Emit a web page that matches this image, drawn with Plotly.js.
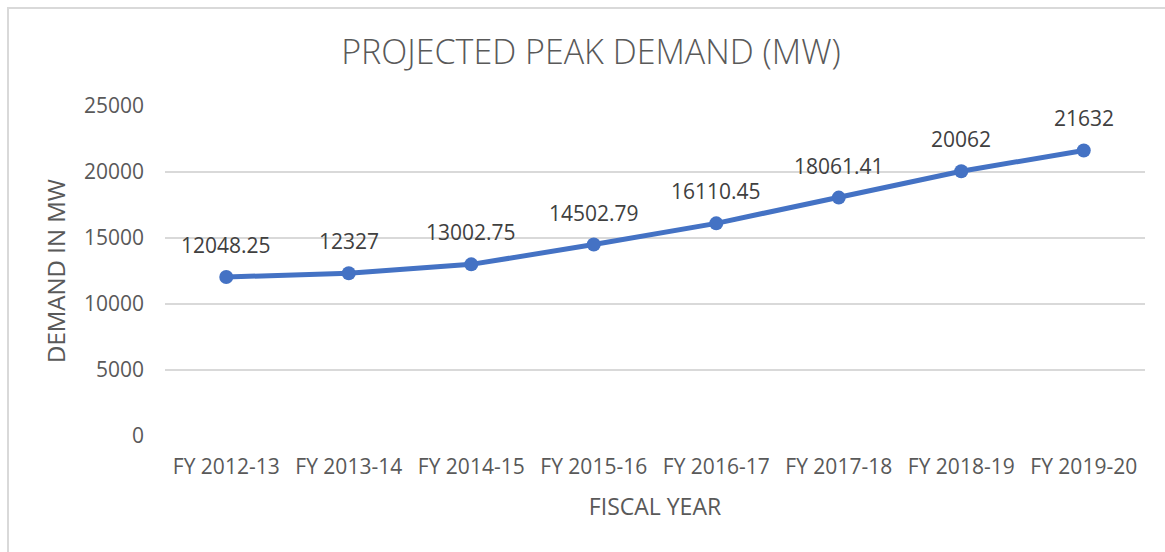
<!DOCTYPE html>
<html>
<head>
<meta charset="utf-8">
<script src="https://cdn.plot.ly/plotly-3.0.1.min.js"></script>
<style>
  html, body { margin: 0; padding: 0; background: #ffffff; }
  #wrap { position: relative; width: 1165px; height: 552px; overflow: hidden; }
  #frame { position: absolute; left: 7px; top: 7px; width: 1200px; height: 600px;
           border-left: 2px solid #d9d9d9; border-top: 2px solid #d9d9d9; box-sizing: border-box; }
  #chart { position: absolute; left: 0; top: 0; width: 1165px; height: 552px; }
</style>
</head>
<body>
<div id="wrap">
  <div id="frame"></div>
  <div id="chart"></div>
</div>
<script>
const categories = ["FY 2012-13", "FY 2013-14", "FY 2014-15", "FY 2015-16",
                    "FY 2016-17", "FY 2017-18", "FY 2018-19", "FY 2019-20"];
const demand = [12048.25, 12327, 13002.75, 14502.79, 16110.45, 18061.41, 20062, 21632];
const labels = ["12048.25", "12327", "13002.75", "14502.79", "16110.45", "18061.41", "20062", "21632"];
const yTicks = [0, 5000, 10000, 15000, 20000, 25000];

const FONT = "'Open Sans', 'Noto Sans', sans-serif";
const TXT = "#595959";

const trace = {
  type: "scatter",
  mode: "lines+markers",
  x: categories,
  y: demand,
  line: { color: "#4472C4", width: 5 },
  marker: { color: "#4472C4", size: 14 },
  hoverinfo: "skip",
  cliponaxis: false
};

const annotations = categories.map((c, i) => ({
  x: c, y: demand[i], xref: "x", yref: "y",
  text: labels[i], showarrow: false,
  yshift: 32, xanchor: "center", yanchor: "middle",
  font: { family: FONT, size: 21, color: "#404040" }
}));

const layout = {
  width: 1165, height: 552,
  paper_bgcolor: "rgba(0,0,0,0)",
  plot_bgcolor: "rgba(0,0,0,0)",
  margin: { l: 165, r: 20, t: 106, b: 116 },
  showlegend: false,
  title: {
    text: "PROJECTED PEAK DEMAND (MW)",
    x: 591 / 1165, xref: "container", xanchor: "center",
    y: 1 - 52 / 552, yref: "container", yanchor: "middle",
    font: { family: FONT, size: 34, color: TXT, weight: 300 }
  },
  xaxis: {
    type: "category",
    range: [-0.5, categories.length - 0.5],
    showgrid: false, zeroline: false, showline: false,
    ticks: "", ticklabelstandoff: 16,
    tickfont: { family: FONT, size: 21, color: TXT },
    title: { text: "FISCAL YEAR", standoff: 19,
             font: { family: FONT, size: 23, color: TXT } }
  },
  yaxis: {
    range: [0, 25000],
    tickvals: yTicks,
    ticktext: yTicks.map(String),
    showgrid: true, gridcolor: "#d9d9d9", gridwidth: 1.5,
    zeroline: false, showline: false,
    ticks: "", ticklabelstandoff: 20,
    tickfont: { family: FONT, size: 21, color: TXT },
    title: { text: "DEMAND IN MW", standoff: 11,
             font: { family: FONT, size: 24, color: TXT } }
  },
  annotations: annotations
};

Plotly.newPlot("chart", [trace], layout, { staticPlot: true, displayModeBar: false });
</script>
</body>
</html>
